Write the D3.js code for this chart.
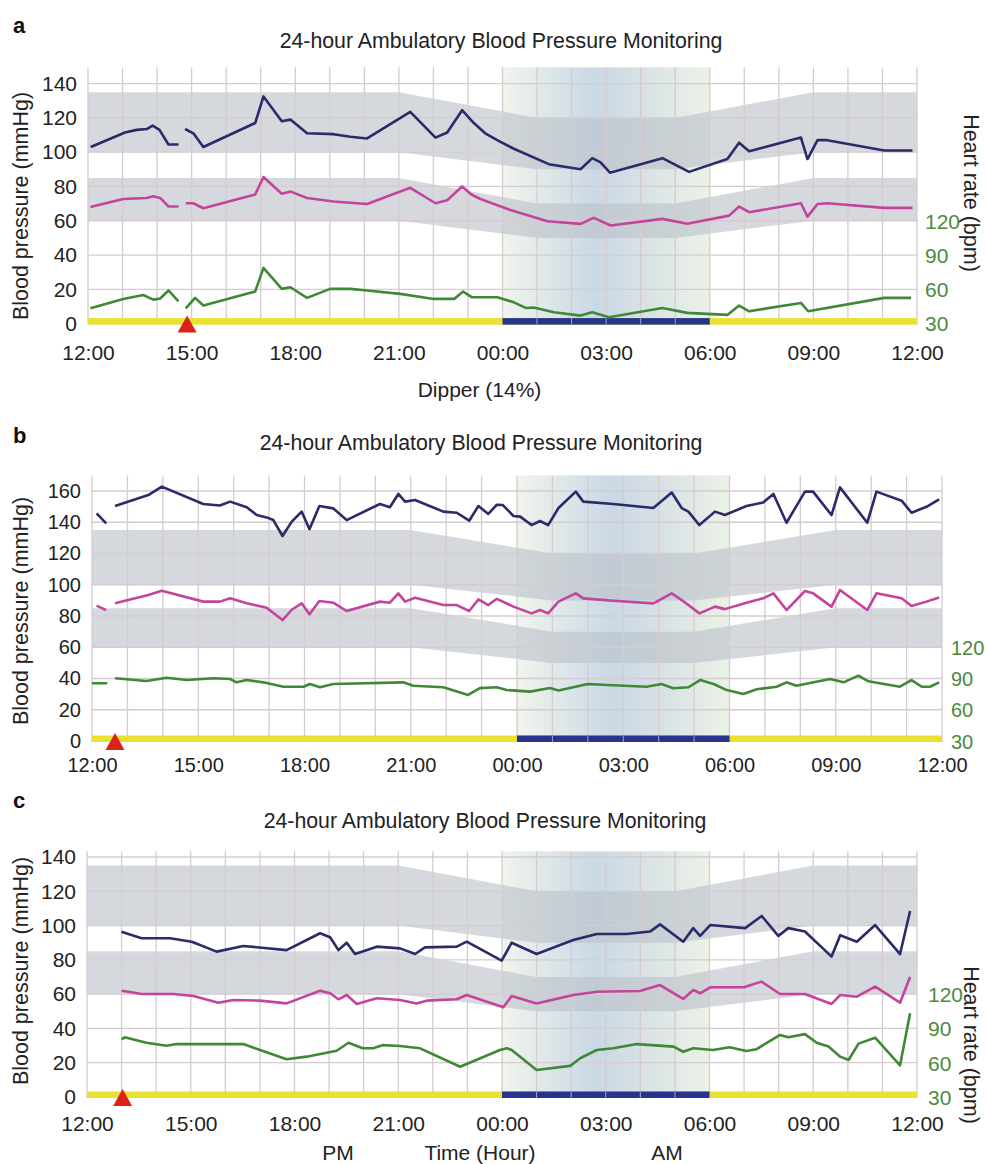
<!DOCTYPE html>
<html>
<head>
<meta charset="utf-8">
<script src="https://cdn.jsdelivr.net/npm/d3@7"></script>
<style>
  body { margin: 0; background: #fff; }
  svg { display: block; font-family: "Liberation Sans", Arial, sans-serif; }
</style>
</head>
<body>
<svg id="chart" width="986" height="1164"></svg>
<script>
// time is in hours after 12:00 (0 = 12:00, 12 = 00:00, 24 = 12:00 next day)
// null = gap in the recording
const xTickHours = [0, 3, 6, 9, 12, 15, 18, 21, 24]
const xTickLabels = ["12:00", "15:00", "18:00", "21:00", "00:00", "03:00", "06:00", "09:00", "12:00"]
const hrTicks = [30, 60, 90, 120]

// normal ranges (day / night)
const bandHours = [0, 9, 13, 17, 21, 24]
const sysUpper = [135, 135, 120, 120, 135, 135]
const sysLower = [100, 100, 90, 90, 100, 100]
const diaUpper = [85, 85, 70, 70, 85, 85]
const diaLower = [60, 60, 50, 50, 60, 60]
const sleepStart = 12, sleepEnd = 18

// ---- panel a ----
const aSystolic = [[0.08,103],[1.07,111.5],[1.41,113],[1.70,113.5],[1.87,115.5],[2.07,113],[2.33,104.5],[2.62,104.5],null,
  [2.81,113.5],[3.05,111],[3.34,103],[4.84,117],[5.08,132.5],[5.61,118],[5.86,119],[6.34,111],[7.11,110.5],[7.59,109],[8.08,108],
  [9.33,123.5],[10.06,108.5],[10.40,111.5],[10.83,124.5],[11.17,117],[11.50,111],[11.94,106],[12.33,102],[13.34,93],[14.26,90],
  [14.60,96.5],[14.84,94],[15.11,88],[16.63,96.5],[17.40,88.5],[18.51,96],[18.85,105.5],[19.14,100.5],[20.64,108.5],[20.83,96],
  [21.12,107],[21.40,107],[23.05,101],[23.87,101]]
const aDiastolic = [[0.07,68],[1.02,72.7],[1.70,73.3],[1.89,74.3],[2.09,73.3],[2.33,68.3],[2.62,68.3],null,
  [2.83,70.2],[3.05,70.2],[3.34,67.3],[4.84,75.3],[5.08,85.5],[5.61,75.7],[5.87,77],[6.34,73.3],[7.11,71.2],[8.08,69.8],
  [9.33,79.2],[10.06,70.2],[10.40,72],[10.83,80],[11.10,75.3],[11.36,72.7],[12.23,66.3],[13.30,59.7],[14.26,58.2],[14.64,61.7],
  [15.13,57.2],[16.63,61.1],[17.35,58.2],[18.56,63],[18.85,68.3],[19.14,65],[20.64,70.2],[20.83,62.4],[21.12,69.8],[21.40,70.2],
  [23.05,67.5],[23.87,67.5]]
const aHeartRate = [[0.07,43.4],[1.02,51.6],[1.60,55],[1.89,51],[2.09,52],[2.33,59],[2.62,49.5],null,
  [2.83,43.4],[3.10,52.5],[3.34,45.8],[4.84,58],[5.08,78.7],[5.61,60.4],[5.86,61.8],[6.34,52.5],[7.01,60.4],[7.59,60.4],[8.08,59],
  [9.04,56],[10.01,51.6],[10.60,51.6],[10.86,58],[11.12,53],[11.85,53],[12.33,48.6],[12.67,43.7],[12.90,44],[13.49,39.9],
  [14.26,37],[14.60,39.9],[15.08,35.5],[16.63,43.7],[17.35,39.4],[18.51,37.6],[18.85,45.8],[19.14,40.8],[20.64,48.1],[20.85,40.8],
  [23.05,52.5],[23.83,52.5]]
const aMarker = 2.87

// ---- panel b ----
const bSystolic = [[0.13,145.7],[0.40,139.3],null,[0.65,150.4],[1.59,157.4],[1.97,162.8],[3.14,151.7],[3.61,150.7],[3.90,153.2],
  [4.37,149.6],[4.65,144.6],[4.93,143.1],[5.12,141.4],[5.38,131.2],[5.64,140.4],[5.92,146.8],[6.14,135.5],[6.42,150.4],[6.81,148.9],
  [7.19,141.4],[8.13,151.7],[8.41,149.6],[8.65,158.1],[8.84,153.2],[9.12,154.2],[9.92,146.8],[10.30,146.1],[10.65,141],[10.91,150.4],
  [11.19,145.3],[11.43,151.2],[11.60,151],[11.90,144],[12.09,143.6],[12.41,138.2],[12.65,140.8],[12.88,138.2],[13.17,149.1],
  [13.66,159.6],[13.87,153.2],[14.72,151.7],[15.85,149.1],[16.37,159],[16.65,149.1],[16.84,146.8],[17.15,138.2],[17.59,146.8],
  [17.87,144.6],[18.48,150.4],[18.95,152.6],[19.24,158.1],[19.61,139.7],[20.13,159.6],[20.36,159.6],[20.88,144.6],[21.12,162.3],
  [21.89,139.7],[22.15,159.6],[22.86,153.8],[23.14,146.1],[23.56,149.9],[23.92,154.6]]
const bDiastolic = [[0.13,86.6],[0.40,83.8],null,[0.65,88.1],[1.59,93.4],[1.97,96.2],[3.14,89.2],[3.61,89.2],[3.90,91.3],
  [4.37,88.1],[4.93,85.3],[5.38,77.4],[5.64,84],[5.92,88.1],[6.14,81.1],[6.42,89.6],[6.81,88.5],[7.19,83.2],[8.13,89.2],[8.41,88.5],
  [8.65,94.5],[8.84,89.2],[9.12,91.7],[9.92,87],[10.30,87],[10.65,83.2],[10.91,90.6],[11.19,87],[11.43,91],[11.90,86],[12.41,81.7],
  [12.65,83.8],[12.88,81.7],[13.17,89.2],[13.66,94.5],[13.87,91.3],[14.72,89.8],[15.85,88.1],[16.37,94.5],[16.65,90.2],[17.15,81.7],
  [17.59,86],[17.87,84.4],[18.48,88.5],[18.95,91.3],[19.24,94.5],[19.61,83.8],[20.13,96],[20.36,94.5],[20.88,86],[21.12,96.6],
  [21.89,83.8],[22.15,94.5],[22.86,91.3],[23.14,86.4],[23.56,89.2],[23.92,91.9]]
const bHeartRate = [[0.00,85.4],[0.43,85.4],null,[0.65,90.2],[1.54,87.6],[2.11,90.8],[2.67,88.5],[3.43,90.2],[3.90,89.5],
  [4.08,86.3],[4.37,88.5],[4.84,86.3],[5.40,82.1],[5.97,82.1],[6.15,84.7],[6.44,81.6],[6.81,84.7],[8.79,86.3],[9.07,83.1],
  [9.92,81.6],[10.62,74.2],[10.95,80.8],[11.43,81.6],[11.71,78.9],[12.37,77.4],[12.93,80.8],[13.17,78.5],[14.00,84.7],[14.55,83.7],
  [15.66,82.1],[16.08,84.7],[16.41,80.7],[16.84,81.6],[17.17,88.5],[17.55,84.7],[17.92,78.9],[18.39,75.2],[18.77,79.7],[19.33,82.1],
  [19.61,86.3],[19.89,83.1],[20.84,89.6],[21.22,86.3],[21.64,92.7],[21.92,87.3],[22.81,82.1],[23.14,88.5],[23.43,82.1],[23.66,82.1],
  [23.92,86.3]]
const bMarker = 0.65

// ---- panel c ----
const cSystolic = [[1.00,96.5],[1.06,95.9],[1.58,92.6],[2.40,92.6],[3.03,90.6],[3.75,84.8],[4.52,88.1],[5.77,85.7],[6.74,95.5],
  [7.03,93.2],[7.27,85.7],[7.51,90],[7.75,83.4],[8.38,87.7],[9.05,86.7],[9.49,83.4],[9.77,87.3],[10.69,87.7],[10.98,90.6],
  [11.99,79.5],[12.28,90],[13.00,83.4],[14.06,91.6],[14.74,95.1],[15.60,95.1],[16.28,96.5],[16.57,100.7],[17.24,90.6],[17.53,98.5],
  [17.73,94],[18.02,100.3],[19.03,98.5],[19.51,105.6],[19.99,94],[20.28,98.5],[20.76,96.5],[21.53,81.9],[21.78,94.4],[22.26,90.6],
  [22.79,100.3],[23.51,83.4],[23.80,108.5]]
const cDiastolic = [[1.00,61.8],[1.06,61.8],[1.58,60.1],[2.50,60.1],[3.08,58.9],[3.80,55],[4.23,56.6],[5.00,56.2],[5.77,54.6],
  [6.74,62],[7.03,60.5],[7.27,57],[7.51,59.5],[7.80,54.3],[8.38,57.6],[9.05,56.6],[9.53,54.6],[9.82,56.2],[10.69,57],[10.98,59.5],
  [12.04,52.3],[12.28,58.9],[13.00,54.6],[14.06,59.5],[14.74,61.4],[15.99,61.8],[16.57,65.3],[17.24,57.2],[17.53,62.4],[17.73,60.5],
  [18.02,64],[19.00,64],[19.50,67.3],[20.04,60.1],[20.76,60.1],[21.53,54.3],[21.78,59.5],[22.26,58.5],[22.79,64.4],[23.51,55],
  [23.80,70]]
const cHeartRate = [[1.00,80.5],[1.09,82.2],[1.72,77.5],[2.30,74.9],[2.59,76.3],[4.52,76.3],[5.77,63],[6.35,65.3],[7.22,70.5],
  [7.56,77.5],[7.97,72.6],[8.27,72.6],[8.57,75.4],[9.05,74.6],[9.63,72.6],[10.79,56.5],[11.94,71.1],[12.14,72.6],[12.28,71.1],
  [13.00,53.6],[13.97,57.2],[14.26,63.9],[14.74,71.1],[15.22,72.6],[15.90,76.3],[16.96,74.1],[17.24,69.6],[17.53,72.6],[18.10,71.1],
  [18.58,73.5],[19.06,70.2],[19.35,71.7],[20.04,84.3],[20.28,82.2],[20.76,85],[21.10,77.5],[21.44,74.1],[21.78,65.3],[22.02,62.4],
  [22.31,76.7],[22.79,81.9],[23.51,57.7],[23.80,103.2]]
const cMarker = 1.03

const title = "24-hour Ambulatory Blood Pressure Monitoring"
const FONT = "Liberation Sans, Arial, sans-serif"

const svg = d3.select("#chart")

const defs = svg.append("defs")
const grad = defs.append("linearGradient").attr("id", "night").attr("x1", "0%").attr("x2", "100%")
grad.append("stop").attr("offset", "0%").attr("stop-color", "#f0f5ec")
grad.append("stop").attr("offset", "45%").attr("stop-color", "#cad8e6")
grad.append("stop").attr("offset", "60%").attr("stop-color", "#d3dee4")
grad.append("stop").attr("offset", "100%").attr("stop-color", "#ebf2e7")

// layout of the three panels
const panels = [
  { letter: "a", letterY: 33, titleX: 501, titleY: 41, left: 88, right: 917, y0: 323.6, yRef: 83.6, refVal: 140, top: 149.5,
    yTicks: d3.range(0, 141, 20), xLabelY: 352.7, tickSize: 21, hrX: 925, yTitleY: 206, hrTitleY: 193,
    sys: aSystolic, dia: aDiastolic, hr: aHeartRate, marker: aMarker },
  { letter: "b", letterY: 443, titleX: 481, titleY: 443, left: 92, right: 942, y0: 741, yRef: 491, refVal: 160, top: 170,
    yTicks: d3.range(0, 161, 20), xLabelY: 765, tickSize: 20, hrX: 951, yTitleY: 611, hrTitleY: null,
    sys: bSystolic, dia: bDiastolic, hr: bHeartRate, marker: bMarker },
  { letter: "c", letterY: 808, titleX: 485, titleY: 821, left: 87, right: 917, y0: 1097, yRef: 857, refVal: 140, top: 143.3,
    yTicks: d3.range(0, 141, 20), xLabelY: 1123.3, tickSize: 21, hrX: 928, yTitleY: 971, hrTitleY: 1045,
    sys: cSystolic, dia: cDiastolic, hr: cHeartRate, marker: cMarker }
]

function drawPanel(p) {
  const g = svg.append("g")
  const x = d3.scaleLinear().domain([0, 24]).range([p.left, p.right])
  const y = d3.scaleLinear().domain([0, p.refVal]).range([p.y0, p.yRef])
  const hr = d3.scaleLinear().domain([30, 30 + 1.5 * p.refVal]).range([p.y0, p.yRef])

  // night shading
  g.append("rect")
    .attr("x", x(sleepStart)).attr("width", x(sleepEnd) - x(sleepStart))
    .attr("y", y(p.top)).attr("height", y(0) - y(p.top))
    .attr("fill", "url(#night)")

  // normal range bands
  const bands = [[sysLower, sysUpper], [diaLower, diaUpper]]
  const area = d3.area()
    .x((d, i) => x(bandHours[i]))
    .y0(d => y(d[0]))
    .y1(d => y(d[1]))
  bands.forEach(b => {
    const pts = bandHours.map((h, i) => [b[0][i], b[1][i]])
    g.append("path").attr("d", area(pts))
      .attr("fill", "#bcc1c9").attr("opacity", 0.62)
  })

  // grid
  g.append("g").selectAll("line").data(d3.range(0, 25)).join("line")
    .attr("x1", d => x(d)).attr("x2", d => x(d))
    .attr("y1", y(p.top)).attr("y2", y(0) + 1)
    .attr("stroke", "#d6cbd0").attr("stroke-width", 1.3)
  g.append("g").selectAll("line").data(p.yTicks).join("line")
    .attr("x1", p.left).attr("x2", p.right)
    .attr("y1", d => y(d)).attr("y2", d => y(d))
    .attr("stroke", "#d6cbd0").attr("stroke-width", 1.3)

  // activity bar (awake yellow / asleep blue)
  g.append("rect").attr("x", x(0)).attr("width", x(24) - x(0))
    .attr("y", y(0) - 5.5).attr("height", 6.5).attr("fill", "#ebe12f")
  g.append("rect").attr("x", x(sleepStart)).attr("width", x(sleepEnd) - x(sleepStart))
    .attr("y", y(0) - 5.5).attr("height", 6.5).attr("fill", "#26338f")
  g.append("g").selectAll("line").data(d3.range(sleepStart + 1, sleepEnd)).join("line")
    .attr("x1", d => x(d)).attr("x2", d => x(d))
    .attr("y1", y(0) - 5.5).attr("y2", y(0) + 1)
    .attr("stroke", "#9aa3cf").attr("stroke-width", 1)

  // series
  const bpLine = d3.line().defined(d => d != null).x(d => x(d[0])).y(d => y(d[1]))
  const hrLine = d3.line().defined(d => d != null).x(d => x(d[0])).y(d => hr(d[1]))
  g.append("path").attr("d", hrLine(p.hr)).attr("fill", "none")
    .attr("stroke", "#3f8835").attr("stroke-width", 2.6).attr("stroke-linejoin", "round")
  g.append("path").attr("d", bpLine(p.dia)).attr("fill", "none")
    .attr("stroke", "#c4449c").attr("stroke-width", 2.6).attr("stroke-linejoin", "round")
  g.append("path").attr("d", bpLine(p.sys)).attr("fill", "none")
    .attr("stroke", "#2c2a68").attr("stroke-width", 2.6).attr("stroke-linejoin", "round")

  // event marker
  const mx = x(p.marker)
  g.append("path")
    .attr("d", `M${mx},${y(0) - 8}L${mx + 9.5},${y(0) + 9}L${mx - 9.5},${y(0) + 9}Z`)
    .attr("fill", "#dc2218")

  // x axis labels
  const xAxis = d3.axisBottom(x).tickValues(xTickHours)
    .tickFormat((d, i) => xTickLabels[i]).tickSize(0)
  const xa = g.append("g").attr("transform", `translate(0,${p.xLabelY})`).call(xAxis)
  xa.select(".domain").remove()
  xa.selectAll("text").attr("y", 0).attr("dy", "0.35em")
    .attr("font-size", p.tickSize).attr("font-family", FONT).attr("fill", "#222")

  // left axis labels
  const yAxis = d3.axisLeft(y).tickValues(p.yTicks).tickSize(0)
  const ya = g.append("g").attr("transform", `translate(${p.left - 11},0)`).call(yAxis)
  ya.select(".domain").remove()
  ya.selectAll("text").attr("x", 0).attr("dy", "0.32em")
    .attr("font-size", p.tickSize).attr("font-family", FONT).attr("fill", "#222")

  // right (heart rate) labels
  const hAxis = d3.axisRight(hr).tickValues(hrTicks).tickSize(0)
  const ha = g.append("g").attr("transform", `translate(${p.hrX},0)`).call(hAxis)
  ha.select(".domain").remove()
  ha.selectAll("text").attr("x", 0).attr("dy", "0.35em")
    .attr("font-size", p.tickSize).attr("font-family", FONT).attr("fill", "#4c8a3c")

  // titles
  g.append("text").attr("x", 13).attr("y", p.letterY).text(p.letter)
    .attr("font-size", 22).attr("font-weight", "bold").attr("fill", "#111")
  g.append("text").attr("x", p.titleX).attr("y", p.titleY).attr("dy", "0.35em")
    .attr("text-anchor", "middle").attr("font-size", 21.3).attr("fill", "#222").text(title)
  g.append("text")
    .attr("transform", `translate(20.5,${p.yTitleY}) rotate(-90)`)
    .attr("text-anchor", "middle").attr("dy", "0.35em")
    .attr("font-size", 21.5).attr("fill", "#222").text("Blood pressure (mmHg)")
  if (p.hrTitleY != null) {
    g.append("text")
      .attr("transform", `translate(972,${p.hrTitleY}) rotate(90)`)
      .attr("text-anchor", "middle").attr("dy", "0.35em")
      .attr("font-size", 21.5).attr("fill", "#222").text("Heart rate (bpm)")
  }
}

panels.forEach(drawPanel)

// captions
svg.append("text").attr("x", 479.5).attr("y", 390).attr("dy", "0.35em").attr("text-anchor", "middle")
  .attr("font-size", 21).attr("fill", "#222").text("Dipper (14%)")
svg.append("text").attr("x", 338).attr("y", 1153).attr("dy", "0.35em").attr("text-anchor", "middle")
  .attr("font-size", 21).attr("fill", "#222").text("PM")
svg.append("text").attr("x", 480).attr("y", 1153).attr("dy", "0.35em").attr("text-anchor", "middle")
  .attr("font-size", 21).attr("fill", "#222").text("Time (Hour)")
svg.append("text").attr("x", 667).attr("y", 1153).attr("dy", "0.35em").attr("text-anchor", "middle")
  .attr("font-size", 21).attr("fill", "#222").text("AM")
</script>
</body>
</html>
